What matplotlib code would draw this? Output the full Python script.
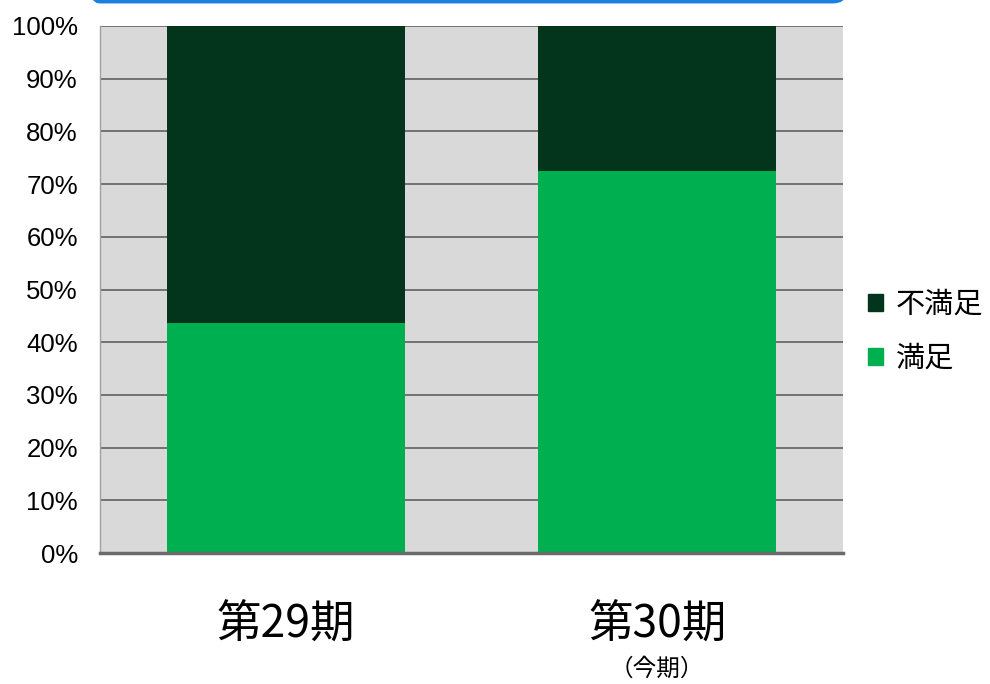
import matplotlib
matplotlib.use("Agg")
from matplotlib import pyplot as plt
from matplotlib.patches import FancyBboxPatch, Patch
from matplotlib.ticker import FuncFormatter

plt.rcParams['font.family'] = ['Liberation Sans', 'Noto Sans CJK JP', 'DejaVu Sans']

categories = ['第29期', '第30期']
satisfied = [43.6, 72.5]      # 満足
unsatisfied = [56.4, 27.5]    # 不満足
legend_labels = ['不満足', '満足']

dark = '#03341c'
green = '#00b050'

fig = plt.figure(figsize=(9.9, 6.84), dpi=100)
ax = fig.add_axes([0.101, 0.1915, 0.7505, 0.7705])
ax.set_facecolor('#d9d9d9')

x = range(len(categories))
ax.bar(x, satisfied, width=0.64, color=green, zorder=3)
ax.bar(x, unsatisfied, width=0.64, bottom=satisfied, color=dark, zorder=3)

ax.set_xlim(-0.5, 1.5)
ax.set_ylim(0, 100)
ax.set_yticks(range(0, 101, 10))
ax.yaxis.set_major_formatter(FuncFormatter(lambda v, p: f'{int(v)}%'))
ax.tick_params(axis='y', length=0, labelsize=18.5, pad=16)
ax.tick_params(axis='x', length=0, labelbottom=False)
ax.grid(axis='y', color='#606060', linewidth=1.2, zorder=1)

for s in ['top', 'right']:
    ax.spines[s].set_visible(False)
ax.spines['left'].set_color('#a0a0a0')
ax.spines['left'].set_linewidth(1)
ax.spines['bottom'].set_color('#6a6a6a')
ax.spines['bottom'].set_linewidth(2.5)
ax.spines['bottom'].set_zorder(4)

# category labels
for i, c in enumerate(categories):
    ax.text(i, -13.6, c, ha='center', va='center', fontsize=32,
            family=['Noto Sans CJK JP', 'DejaVu Sans'], clip_on=False)
ax.text(1, -22.0, '（今期）', ha='center', va='center', fontsize=17,
        family=['Noto Sans CJK JP', 'DejaVu Sans'], clip_on=False)

handles = [Patch(color=dark), Patch(color=green)]
leg = fig.legend(handles, legend_labels, loc='center left', bbox_to_anchor=(0.85, 0.515),
                 frameon=False, prop={'family': 'Noto Sans CJK JP', 'size': 21},
                 handlelength=0.52, handleheight=0.52, handletextpad=0.45,
                 labelspacing=0.8)

# blue rounded frame edge at the top
box = FancyBboxPatch((0.088, 0.9975), 0.765, 0.1, transform=fig.transFigure,
                     boxstyle='round,pad=0,rounding_size=0.012',
                     facecolor='none', edgecolor='#1a7fe0', linewidth=2.5)
fig.patches.append(box)

fig.savefig('out.png', dpi=100)
